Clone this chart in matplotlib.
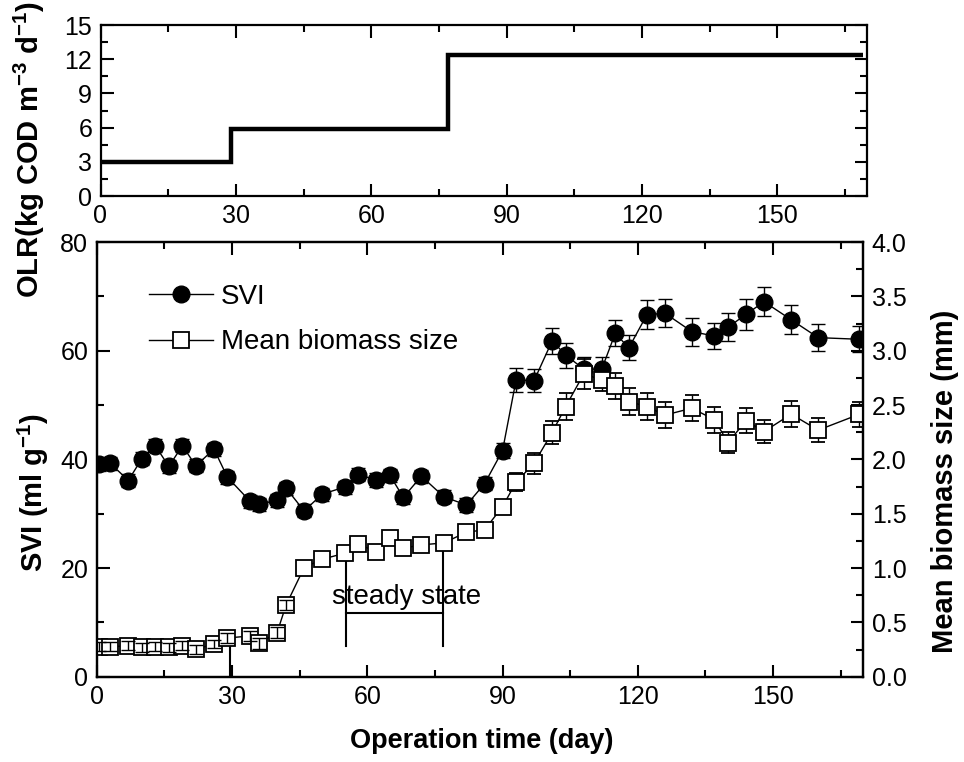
import numpy as np
import matplotlib
matplotlib.use("Agg")
import matplotlib.pyplot as plt
from matplotlib.ticker import MultipleLocator, FormatStrFormatter
from matplotlib.lines import Line2D

plt.rcParams["font.family"] = ["Liberation Sans", "DejaVu Sans"]
plt.rcParams["mathtext.default"] = "regular"

# ---- data ----
# organic loading rate (step profile)
olr_edges = [0, 29, 77, 169]
olr_vals = [2.95, 5.85, 12.35]

days = [0.5, 3, 7, 10, 13, 16, 19, 22, 26, 29, 34, 36, 40, 42, 46, 50, 55, 58,
        62, 65, 68, 72, 77, 82, 86, 90, 93, 97, 101, 104, 108, 112, 115, 118,
        122, 126, 132, 137, 140, 144, 148, 154, 160, 169]

svi = [39.1, 39.3, 36.1, 40.1, 42.5, 38.7, 42.5, 38.8, 41.9, 36.7, 32.3, 31.7,
       32.5, 34.7, 30.5, 33.6, 34.9, 37.2, 36.2, 37.1, 33.0, 36.9, 33.1, 31.6,
       35.5, 41.6, 54.6, 54.5, 61.8, 59.2, 56.6, 56.6, 63.2, 60.5, 66.6, 66.9,
       63.5, 62.7, 64.3, 66.7, 69.0, 65.7, 62.4, 62.1]
svi_err = [1.2, 1.2, 1.2, 1.2, 1.2, 1.2, 1.2, 1.2, 1.2, 1.2, 1.2, 1.2,
           1.2, 1.2, 1.2, 1.2, 1.2, 1.2, 1.2, 1.2, 1.2, 1.2, 1.2, 1.2,
           1.2, 1.4, 2.15, 2.15, 2.4, 2.3, 2.2, 2.2, 2.4, 2.3, 2.7, 2.6,
           2.55, 2.45, 2.55, 2.9, 2.7, 2.65, 2.45, 2.4]

biomass = [0.276, 0.276, 0.285, 0.27, 0.276, 0.27, 0.285, 0.252, 0.30, 0.356,
           0.375, 0.307, 0.405, 0.66, 1.004, 1.081, 1.136, 1.219, 1.151, 1.274,
           1.182, 1.213, 1.231, 1.33, 1.351, 1.565, 1.79, 1.965, 2.247, 2.486,
           2.785, 2.732, 2.677, 2.532, 2.486, 2.407, 2.471, 2.364, 2.155, 2.355,
           2.256, 2.416, 2.269, 2.413]
biomass_err = [0.04, 0.04, 0.04, 0.04, 0.04, 0.04, 0.04, 0.04, 0.04, 0.05,
               0.05, 0.05, 0.05, 0.05, 0.05, 0.05, 0.05, 0.05, 0.05, 0.05,
               0.05, 0.05, 0.05, 0.05, 0.05, 0.06, 0.083, 0.097, 0.11, 0.12,
               0.14, 0.107, 0.12, 0.12, 0.12, 0.12, 0.12, 0.12, 0.10, 0.117,
               0.11, 0.118, 0.11, 0.115]

# annotation positions (days / SVI units)
load_change_day = 29.6
steady_start, steady_end = 55.3, 76.7
n_early = 14   # first points whose error bars show through the open squares

W, H = 964, 762
fig = plt.figure(figsize=(W / 100, H / 100), dpi=100)


def style_axis(a, lab=18):
    a.tick_params(which="both", direction="in", width=1.5, labelsize=lab, pad=6)
    a.tick_params(which="major", length=9)
    a.tick_params(which="minor", length=5)
    for s in a.spines.values():
        s.set_linewidth(1.6)


# ---- top panel: OLR ----
ax_top = fig.add_axes([100.5 / W, 1 - 196 / H, 767 / W, 171 / H])
ax_top.stairs(olr_vals, olr_edges, baseline=None, color="black", lw=3.2)
ax_top.set_xlim(0, 170)
ax_top.set_ylim(0, 15)
ax_top.xaxis.set_major_locator(MultipleLocator(30))
ax_top.xaxis.set_minor_locator(MultipleLocator(15))
ax_top.yaxis.set_major_locator(MultipleLocator(3))
ax_top.yaxis.set_minor_locator(MultipleLocator(1.5))
style_axis(ax_top)
ax_top.tick_params(which="both", top=True, right=True)

# ---- bottom panel: SVI + biomass size ----
ax = fig.add_axes([96.7 / W, 1 - 676.7 / H, 766.6 / W, 434.7 / H])
ax2 = ax.twinx()

ax.errorbar(days, svi, yerr=svi_err, fmt="-o", color="black", mfc="black",
            ms=12, lw=1, elinewidth=1, capsize=5, capthick=1)
ax2.errorbar(days, biomass, yerr=biomass_err, fmt="-s", color="black",
             mfc="white", mec="black", ms=11, mew=1.3, lw=1, elinewidth=1,
             capsize=5, capthick=1)
# small early error bars are visible inside the squares
ax2.errorbar(days[:n_early], biomass[:n_early], yerr=biomass_err[:n_early],
             fmt="none", ecolor="black", elinewidth=1, capsize=5, capthick=1,
             zorder=4)

ax.set_xlim(0, 170)
ax.set_ylim(0, 80)
ax2.set_ylim(0, 4.0)
ax.xaxis.set_major_locator(MultipleLocator(30))
ax.xaxis.set_minor_locator(MultipleLocator(15))
ax.yaxis.set_major_locator(MultipleLocator(20))
ax.yaxis.set_minor_locator(MultipleLocator(10))
ax2.yaxis.set_major_locator(MultipleLocator(0.5))
ax2.yaxis.set_minor_locator(MultipleLocator(0.25))
ax2.yaxis.set_major_formatter(FormatStrFormatter("%.1f"))
style_axis(ax)
style_axis(ax2)
ax.tick_params(which="both", top=True, right=False)

# marker of loading change and steady-state bracket
ax.plot([load_change_day, load_change_day], [0, 7], color="black", lw=1.5)
ax.plot([steady_start, steady_start], [5.65, 23.9], color="black", lw=1.5)
ax.plot([steady_end, steady_end], [5.65, 25.8], color="black", lw=1.5)
ax.plot([steady_start, steady_end], [11.8, 11.8], color="black", lw=1.5)
ax.text(68.8, 14.7, "steady state", ha="center", va="center", fontsize=20)

handles = [
    Line2D([], [], color="black", lw=1, marker="o", ms=12, mfc="black"),
    Line2D([], [], color="black", lw=1, marker="s", ms=11, mfc="white", mew=1.3),
]
ax2.legend(handles, ["SVI", "Mean biomass size"], loc="upper left",
           bbox_to_anchor=(149 / W, 1 - 284 / H), bbox_transform=fig.transFigure,
           frameon=False, fontsize=20, handlelength=2.3, handletextpad=0.3,
           labelspacing=0.7, borderpad=0, borderaxespad=0)

# axis titles
fig.text(29 / W, 1 - 150 / H, "OLR(kg COD m$^{-3}$ d$^{-1}$)", rotation=90,
         ha="center", va="center", fontsize=21, fontweight="bold")
fig.text(33 / W, 1 - 492 / H, "SVI (ml g$^{-1}$)", rotation=90,
         ha="center", va="center", fontsize=21, fontweight="bold")
fig.text(945 / W, 1 - 481 / H, "Mean biomass size (mm)", rotation=90,
         ha="center", va="center", fontsize=21, fontweight="bold")
fig.text(482 / W, 1 - 748 / H, "Operation time (day)", ha="center",
         va="baseline", fontsize=19.5, fontweight="bold")

fig.savefig("out.png", dpi=100)
